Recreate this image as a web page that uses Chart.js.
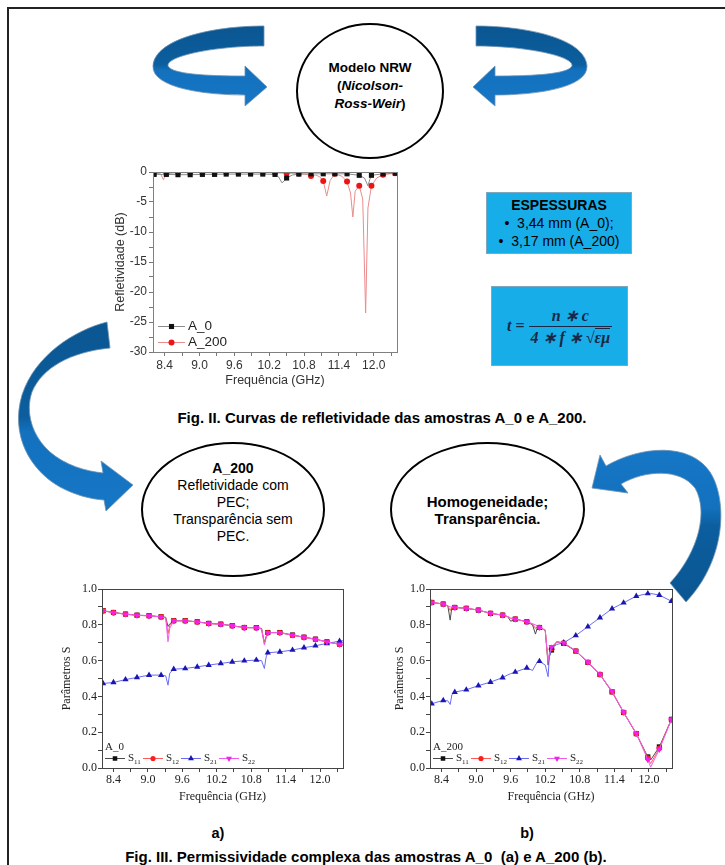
<!DOCTYPE html>
<html>
<head>
<meta charset="utf-8">
<title>Modelo NRW - refletividade e parâmetros S</title>
<script src="https://cdn.jsdelivr.net/npm/chart.js@4.4.1/dist/chart.umd.min.js"></script>
<style>
  body { margin: 0; background: #fff; }
  #page { position: relative; width: 725px; height: 865px; overflow: hidden;
          font-family: "Liberation Sans", Arial, sans-serif; color: #000; }
  .frame { position: absolute; left: 7px; top: 7px; width: 740px; height: 900px;
           border-left: 2px solid #222; border-top: 2px solid #222; }
  .t { position: absolute; white-space: nowrap; transform: translate(-50%, -50%); }
  .ell { position: absolute; box-sizing: border-box; border: 2px solid #000; border-radius: 50%;
         display: flex; align-items: center; justify-content: center; text-align: center;
         font-size: 14px; line-height: 17px; background: #fff; }
  .box { position: absolute; box-sizing: border-box; background: #17ade8; border: 1px solid #7fa7bd;
         display: flex; flex-direction: column; align-items: center; justify-content: center; }
  canvas { position: absolute; }
  svg { position: absolute; left: 0; top: 0; z-index: 3; }
  .fx { font-family: "Liberation Serif", "Times New Roman", serif; font-weight: bold; font-style: italic;
        color: #1b2746; font-size: 16px; display: flex; align-items: center; }
  .frac { display: inline-flex; flex-direction: column; align-items: center; margin-left: 4px; }
  .frac .num { padding: 0 5px 1px; border-bottom: 1.5px solid #1b2746; align-self: stretch; text-align: center; }
  .frac .den { padding: 1px 2px 0; }
  .ov { border-top: 1px solid #1b2746; }
</style>
</head>
<body>
<div id="page">
  <div class="frame"></div>

  <!-- ellipses -->
  <div class="ell" style="left:296px;top:23px;width:148px;height:136px;font-size:13.5px;line-height:18px;padding-bottom:10px;">
    <div><b>Modelo NRW</b><br><b>(<i>Nicolson-</i></b><br><b><i>Ross-Weir</i>)</b></div>
  </div>
  <div class="ell" style="left:141px;top:442px;width:184px;height:135px;padding-bottom:14px;">
    <div><b>A_200</b><br>Refletividade com<br>PEC;<br>Transparência sem<br>PEC.</div>
  </div>
  <div class="ell" style="left:390px;top:442px;width:195px;height:135px;font-size:15px;">
    <div><b>Homogeneidade;<br>Transparência.</b></div>
  </div>

  <!-- boxes -->
  <div class="box" style="left:486px;top:192px;width:146px;height:62px;font-size:14px;line-height:18px;">
    <div style="font-weight:bold;font-size:14px;">ESPESSURAS</div>
    <div>•&nbsp;&nbsp;3,44 mm (A_0);</div>
    <div>•&nbsp;&nbsp;3,17 mm (A_200)</div>
  </div>
  <div class="box" style="left:491px;top:286px;width:137px;height:80px;">
    <div class="fx"><span>t</span>&nbsp;<span style="font-style:normal">=</span>
      <span class="frac"><span class="num">n ∗ c</span><span class="den">4 ∗ f ∗ √<span class="ov">εμ</span></span></span>
    </div>
  </div>

  <!-- charts -->
  <canvas id="refl" width="305" height="232" style="left:110px;top:160px;"></canvas>
  <canvas id="sA" width="295" height="230" style="left:58px;top:578px;"></canvas>
  <canvas id="sB" width="294" height="230" style="left:388px;top:578px;"></canvas>

  <!-- captions -->
  <div class="t" style="left:382px;top:417px;font-weight:bold;font-size:15px;">Fig. II. Curvas de refletividade das amostras A_0 e A_200.</div>
  <div class="t" style="left:218px;top:833px;font-weight:bold;font-size:14.5px;">a)</div>
  <div class="t" style="left:527px;top:833px;font-weight:bold;font-size:14.5px;">b)</div>
  <div class="t" style="left:366px;top:856px;font-weight:bold;font-size:15px;">Fig. III. Permissividade complexa das amostras A_0&nbsp; (a) e A_200 (b).</div>

  <!-- curved arrows -->
  <svg width="725" height="865" viewBox="0 0 725 865">
    <defs>
      <linearGradient id="gTop" x1="0" y1="0" x2="0" y2="1">
        <stop offset="0" stop-color="#0a5692"/><stop offset="0.48" stop-color="#0c5e9e"/>
        <stop offset="0.56" stop-color="#1371be"/><stop offset="1" stop-color="#1677c6"/>
      </linearGradient>
      <linearGradient id="gLeft" x1="0" y1="0" x2="0" y2="1">
        <stop offset="0" stop-color="#0a5692"/><stop offset="0.5" stop-color="#0c5e9e"/>
        <stop offset="0.58" stop-color="#1371be"/><stop offset="1" stop-color="#1677c6"/>
      </linearGradient>
      <linearGradient id="gRight" x1="0" y1="0" x2="0" y2="1">
        <stop offset="0" stop-color="#1677c6"/><stop offset="0.38" stop-color="#1371be"/>
        <stop offset="0.5" stop-color="#0c5e9e"/><stop offset="1" stop-color="#0a5692"/>
      </linearGradient>
    </defs>
    <path fill="url(#gTop)" stroke="#6f93b3" stroke-width="0.8"
          d="M264,26 C215,26 155,38 153,66 C152,88 205,95 245,95 L245,106 L267,87 L245,66 L245,76 C205,76 172,74 168,66 C166,56 215,46 264,46 Z"/>
    <path fill="url(#gTop)" stroke="#6f93b3" stroke-width="0.8" transform="translate(740,0) scale(-1,1)"
          d="M264,26 C215,26 155,38 153,66 C152,88 205,95 245,95 L245,106 L267,87 L245,66 L245,76 C205,76 172,74 168,66 C166,56 215,46 264,46 Z"/>
    <path fill="url(#gLeft)" stroke="#6f93b3" stroke-width="0.8"
          d="M107,322 C75,330 35,355 22,395 C10,435 30,470 60,487 C75,495 90,499 104,500 L106,511 L133,485 L101,461 L103,473 C85,471 65,465 50,452 C32,436 25,412 32,392 C42,368 70,352 110,348 Z"/>
    <path fill="url(#gRight)" stroke="#6f93b3" stroke-width="0.8"
          d="M606,466 C640,446 690,442 710,472 C728,500 726,560 686,602 L670,583 C700,550 708,510 695,488 C680,468 645,470 621,484 L628,493 L592,488 L600,455 Z"/>
  </svg>
</div>

<script>
// ---- Fig. II: refletividade (dB) ----
const reflFreqA0 = [8.20, 8.22, 8.43, 8.63, 8.84, 9.05, 9.26, 9.46, 9.67, 9.88, 10.09, 10.30, 10.36, 10.42, 10.46,
                    10.50, 10.60, 10.71, 10.92, 11.13, 11.33, 11.54, 11.75, 11.84, 11.90, 11.93, 11.96, 12.16, 12.37, 12.40];
const reflA0 = [-0.35, -0.4, -0.4, -0.45, -0.45, -0.4, -0.4, -0.35, -0.35, -0.35, -0.35, -0.4, -0.8, -1.8, -1.5,
                -1.0, -0.5, -0.35, -0.3, -0.3, -0.3, -0.3, -0.55, -1.0, -2.3, -1.3, -0.55, -0.3, -0.2, -0.2];
const reflFreqA200 = [8.20, 8.22, 8.33, 8.38, 8.41, 8.43, 8.63, 8.84, 9.05, 9.26, 9.46, 9.67, 9.88, 10.09, 10.30,
                      10.50, 10.71, 10.85, 10.92, 11.00, 11.07, 11.13, 11.19, 11.25, 11.33, 11.45, 11.54, 11.60, 11.64,
                      11.68, 11.75, 11.81, 11.86, 11.90, 11.96, 12.05, 12.16, 12.37, 12.40];
const reflA200 = [-0.1, -0.15, -0.3, -1.3, -0.6, -0.3, -0.1, -0.1, -0.1, -0.1, -0.1, -0.1, -0.1, -0.1, -0.15,
                  -0.2, -0.25, -0.4, -0.66, -0.5, -0.8, -1.5, -4.0, -1.4, -0.3, -0.7, -1.6, -3.5, -7.5,
                  -3.2, -2.3, -4.5, -23.5, -6.0, -2.3, -1.0, -0.45, -0.2, -0.15];
const reflMarks = [8.22, 8.43, 8.63, 8.84, 9.05, 9.26, 9.46, 9.67, 9.88, 10.09, 10.30, 10.50, 10.71, 10.92,
                   11.13, 11.33, 11.54, 11.75, 11.96, 12.16, 12.37];

// ---- Fig. III (a): A_0 ----
const freqA = [8.20, 8.22, 8.40, 8.61, 8.81, 9.02, 9.23, 9.31, 9.35, 9.38, 9.45, 9.65, 9.86, 10.06, 10.27,
               10.47, 10.68, 10.89, 10.98, 11.03, 11.06, 11.09, 11.30, 11.52, 11.72, 11.92, 12.12, 12.34, 12.40];
const s11A = [0.879, 0.879, 0.869, 0.860, 0.854, 0.851, 0.845, 0.842, 0.790, 0.805, 0.823, 0.823, 0.817, 0.808, 0.804,
              0.795, 0.785, 0.784, 0.780, 0.700, 0.735, 0.757, 0.757, 0.743, 0.731, 0.720, 0.705, 0.692, 0.688];
const s12A = [0.878, 0.878, 0.868, 0.859, 0.853, 0.850, 0.844, 0.840, 0.750, 0.795, 0.822, 0.822, 0.816, 0.807, 0.803,
              0.794, 0.784, 0.783, 0.778, 0.695, 0.730, 0.756, 0.756, 0.742, 0.730, 0.719, 0.704, 0.691, 0.687];
const s21A = [0.470, 0.472, 0.478, 0.494, 0.506, 0.519, 0.519, 0.515, 0.463, 0.530, 0.552, 0.556, 0.565, 0.575, 0.584,
              0.593, 0.599, 0.603, 0.600, 0.556, 0.620, 0.644, 0.649, 0.659, 0.672, 0.683, 0.696, 0.709, 0.711];
const s22A = [0.878, 0.878, 0.868, 0.859, 0.853, 0.850, 0.844, 0.838, 0.705, 0.780, 0.822, 0.822, 0.816, 0.807, 0.803,
              0.794, 0.784, 0.783, 0.776, 0.687, 0.725, 0.756, 0.756, 0.742, 0.730, 0.719, 0.704, 0.691, 0.687];
const marksA = [8.22, 8.40, 8.61, 8.81, 9.02, 9.23, 9.45, 9.65, 9.86, 10.06, 10.27, 10.47, 10.68, 10.89,
                11.09, 11.30, 11.52, 11.72, 11.92, 12.12, 12.34];

// ---- Fig. III (b): A_200 ----
const freqB = [8.20, 8.23, 8.43, 8.51, 8.55, 8.58, 8.63, 8.83, 9.04, 9.25, 9.46, 9.55, 9.60, 9.68, 9.88, 9.98,
               10.03, 10.06, 10.10, 10.20, 10.25, 10.27, 10.31, 10.40, 10.52, 10.73, 10.94, 11.15, 11.36, 11.56,
               11.78, 11.98, 12.03, 12.18, 12.39, 12.40];
const s11B = [0.926, 0.925, 0.916, 0.905, 0.826, 0.900, 0.897, 0.892, 0.882, 0.864, 0.854, 0.845, 0.820, 0.832, 0.817, 0.800,
              0.748, 0.780, 0.785, 0.770, 0.575, 0.620, 0.659, 0.705, 0.696, 0.653, 0.590, 0.522, 0.425, 0.310,
              0.192, 0.062, 0.045, 0.118, 0.272, 0.280];
const s12B = [0.926, 0.925, 0.916, 0.906, 0.880, 0.900, 0.897, 0.892, 0.882, 0.864, 0.854, 0.846, 0.835, 0.832, 0.817, 0.805,
              0.780, 0.788, 0.785, 0.770, 0.590, 0.630, 0.668, 0.705, 0.698, 0.654, 0.591, 0.523, 0.426, 0.311,
              0.192, 0.055, 0.025, 0.110, 0.271, 0.278];
const s21B = [0.357, 0.359, 0.378, 0.375, 0.355, 0.410, 0.424, 0.437, 0.460, 0.480, 0.505, 0.520, 0.527, 0.536, 0.559, 0.545,
              0.575, 0.590, 0.596, 0.575, 0.510, 0.620, 0.670, 0.690, 0.700, 0.740, 0.790, 0.840, 0.890, 0.923,
              0.960, 0.975, 0.975, 0.966, 0.932, 0.930];
const s22B = [0.926, 0.925, 0.916, 0.906, 0.900, 0.899, 0.897, 0.892, 0.882, 0.864, 0.854, 0.846, 0.838, 0.832, 0.817, 0.806,
              0.800, 0.795, 0.785, 0.770, 0.600, 0.640, 0.677, 0.705, 0.700, 0.655, 0.592, 0.524, 0.428, 0.312,
              0.193, 0.047, 0.005, 0.104, 0.270, 0.275];
const marksB = [8.23, 8.43, 8.63, 8.83, 9.04, 9.25, 9.46, 9.68, 9.88, 10.10, 10.31, 10.52, 10.73, 10.94,
                11.15, 11.36, 11.56, 11.78, 11.98, 12.18, 12.39];

// tick labels (major) and tick marks (major + minor) on the frequency axis
const freqTicks = ['8.4', '9.0', '9.6', '10.2', '10.8', '11.4', '12.0'];
const freqTickVals = [8.4, 8.7, 9.0, 9.3, 9.6, 9.9, 10.2, 10.5, 10.8, 11.1, 11.4, 11.7, 12.0, 12.3];
const dbTicks = [0, -5, -10, -15, -20, -25, -30];
const sTicks = ['0.0', '0.2', '0.4', '0.6', '0.8', '1.0'];

function pts(xs, ys) { return xs.map((x, i) => ({ x: x, y: ys[i] })); }
function markAt(list, r) { return c => (c.raw && list.includes(c.raw.x)) ? r : 0; }
function freqAxisTicks(s) { s.ticks = freqTickVals.map(v => ({ value: v })); }

// box around the plot area
const frame = {
  id: 'frame',
  afterDraw(chart, args, opts) {
    const a = chart.chartArea, ctx = chart.ctx;
    ctx.save();
    ctx.strokeStyle = opts.color;
    ctx.lineWidth = 1;
    ctx.strokeRect(Math.round(a.left) + 0.5, Math.round(a.top) + 0.5, Math.round(a.right - a.left), Math.round(a.bottom - a.top));
    ctx.restore();
  }
};

// legend drawn inside the plot, bottom-left
const insideLegend = {
  id: 'insideLegend',
  afterDatasetsDraw(chart, args, opts) {
    const ctx = chart.ctx, a = chart.chartArea;
    ctx.save();
    ctx.textBaseline = 'middle';
    ctx.textAlign = 'left';
    if (opts.title) {
      ctx.font = opts.font;
      ctx.fillStyle = opts.color;
      ctx.fillText(opts.title, a.left + opts.titleDx, a.bottom + opts.titleDy);
    }
    opts.items.forEach(it => {
      const ds = chart.data.datasets[it.ds];
      const x = a.left + it.dx, y = a.bottom + it.dy;
      ctx.strokeStyle = ds.borderColor;
      ctx.lineWidth = 1;
      ctx.beginPath(); ctx.moveTo(x, y + 0.5); ctx.lineTo(x + opts.sample, y + 0.5); ctx.stroke();
      ctx.fillStyle = ds.pointBackgroundColor;
      Chart.helpers.drawPoint(ctx, { pointStyle: ds.pointStyle, rotation: ds.pointRotation || 0,
                                     radius: it.r, borderWidth: 0 }, x + opts.sample / 2, y + 0.5);
      ctx.fillStyle = opts.color;
      ctx.font = opts.font;
      const tx = x + opts.sample + 3;
      ctx.fillText(it.text, tx, y);
      if (it.sub) {
        const w = ctx.measureText(it.text).width;
        ctx.font = opts.subFont;
        ctx.fillText(it.sub, tx + w, y + 4);
      }
    });
    ctx.restore();
  }
};

const sansFont = 'Liberation Sans';
const serifFont = 'Liberation Serif';

// Fig. II
new Chart(document.getElementById('refl'), {
  type: 'line',
  data: {
    datasets: [
      { label: 'A_0', data: pts(reflFreqA0, reflA0), borderColor: '#8c8c8c', borderWidth: 1,
        pointBackgroundColor: '#111', pointBorderWidth: 0, pointStyle: 'rect',
        pointRadius: markAt(reflMarks, 3.6), order: 1 },
      { label: 'A_200', data: pts(reflFreqA200, reflA200), borderColor: '#ea8c8c', borderWidth: 1,
        pointBackgroundColor: '#ef1414', pointBorderWidth: 0, pointStyle: 'circle',
        pointRadius: markAt(reflMarks, 3), order: 2 }
    ]
  },
  options: {
    responsive: false, animation: false, events: [],
    layout: { padding: { top: 12, right: 18, left: 0, bottom: 0 } },
    scales: {
      x: {
        type: 'linear', min: 8.2, max: 12.4,
        afterFit: s => { s.height = 40; },
        afterBuildTicks: freqAxisTicks,
        border: { display: false },
        grid: { drawOnChartArea: false, tickLength: 4, color: '#777' },
        ticks: { autoSkip: false, maxRotation: 0, padding: 2,
                 color: '#333', font: { family: sansFont, size: 12 },
                 callback: v => freqTicks.includes(v.toFixed(1)) ? v.toFixed(1) : '' },
        title: { display: true, text: 'Frequência (GHz)', color: '#333',
                 font: { family: sansFont, size: 12.5 }, padding: { top: 0, bottom: 4 } }
      },
      y: {
        type: 'linear', min: -30, max: 0,
        afterFit: s => { s.width = 43; },
        border: { display: false },
        grid: { drawOnChartArea: false, tickLength: 4, color: '#777' },
        ticks: { stepSize: 2.5, autoSkip: false, padding: 2, color: '#333', font: { family: sansFont, size: 12 },
                 callback: v => dbTicks.includes(v) ? String(v) : '' },
        title: { display: true, text: 'Refletividade (dB)', color: '#333',
                 font: { family: sansFont, size: 12.5 }, padding: { top: 3, bottom: 0 } }
      }
    },
    plugins: {
      legend: { display: false }, tooltip: { enabled: false },
      frame: { color: '#808080' },
      insideLegend: {
        font: '13.5px ' + sansFont, subFont: '9px ' + sansFont, color: '#222', sample: 27,
        items: [ { ds: 0, text: 'A_0', dx: 5, dy: -26, r: 3.6 },
                 { ds: 1, text: 'A_200', dx: 5, dy: -10, r: 3 } ]
      }
    }
  },
  plugins: [frame, insideLegend]
});

// Fig. III panels
function sChart(id, freq, s11, s12, s21, s22, marks, name, yWidth, yPad) {
  return new Chart(document.getElementById(id), {
    type: 'line',
    data: {
      datasets: [
        { label: 'S11', data: pts(freq, s11), borderColor: '#4a4a4a', borderWidth: 1,
          pointBackgroundColor: '#111', pointBorderWidth: 0, pointStyle: 'rect',
          pointRadius: markAt(marks, 3.6), order: 4 },
        { label: 'S12', data: pts(freq, s12), borderColor: '#ff5a5a', borderWidth: 1,
          pointBackgroundColor: '#ff1c1c', pointBorderWidth: 0, pointStyle: 'circle',
          pointRadius: markAt(marks, 2.8), order: 3 },
        { label: 'S21', data: pts(freq, s21), borderColor: '#6b6bf2', borderWidth: 1,
          pointBackgroundColor: '#1a16b4', pointBorderWidth: 0, pointStyle: 'triangle',
          pointRadius: markAt(marks, 3.6), order: 2 },
        { label: 'S22', data: pts(freq, s22), borderColor: '#f25af2', borderWidth: 1,
          pointBackgroundColor: '#f020f0', pointBorderWidth: 0, pointStyle: 'triangle', pointRotation: 180,
          pointRadius: markAt(marks, 3.6), order: 1 }
      ]
    },
    options: {
      responsive: false, animation: false, events: [],
      layout: { padding: { top: 11, right: 10, left: 0, bottom: 0 } },
      scales: {
        x: {
          type: 'linear', min: 8.2, max: 12.4,
          afterFit: s => { s.height = 40; },
          afterBuildTicks: freqAxisTicks,
          border: { display: false },
          grid: { drawOnChartArea: false, tickLength: 4, color: '#444' },
          ticks: { autoSkip: false, maxRotation: 0, padding: 1,
                   color: '#222', font: { family: serifFont, size: 12 },
                   callback: v => freqTicks.includes(v.toFixed(1)) ? v.toFixed(1) : '' },
          title: { display: true, text: 'Frequência (GHz)', color: '#222',
                   font: { family: serifFont, size: 12 }, padding: { top: 0, bottom: 4 } }
        },
        y: {
          type: 'linear', min: 0, max: 1,
          afterFit: s => { s.width = yWidth; },
          border: { display: false },
          grid: { drawOnChartArea: false, tickLength: 4, color: '#444' },
          ticks: { stepSize: 0.1, autoSkip: false, padding: 1, color: '#222', font: { family: serifFont, size: 12 },
                   callback: v => sTicks.includes(v.toFixed(1)) ? v.toFixed(1) : '' },
          title: { display: true, text: 'Parâmetros S', color: '#222',
                   font: { family: serifFont, size: 12 }, padding: { top: yPad, bottom: 0 } }
        }
      },
      plugins: {
        legend: { display: false }, tooltip: { enabled: false },
        frame: { color: '#444' },
        insideLegend: {
          title: name, titleDx: 3, titleDy: -21,
          font: '11px ' + serifFont, subFont: '7px ' + serifFont, color: '#222', sample: 20,
          items: [ { ds: 0, text: 'S', sub: '11', dx: 3, dy: -10, r: 3.2 },
                   { ds: 1, text: 'S', sub: '12', dx: 41, dy: -10, r: 2.6 },
                   { ds: 2, text: 'S', sub: '21', dx: 79, dy: -10, r: 3.4 },
                   { ds: 3, text: 'S', sub: '22', dx: 117, dy: -10, r: 3.4 } ]
        }
      }
    },
    plugins: [frame, insideLegend]
  });
}

sChart('sA', freqA, s11A, s12A, s21A, s22A, marksA, 'A_0', 44, 2);
sChart('sB', freqB, s11B, s12B, s21B, s22B, marksB, 'A_200', 42, 5);
</script>
</body>
</html>
